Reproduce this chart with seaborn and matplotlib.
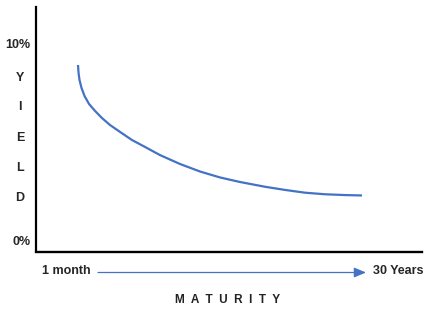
import matplotlib
matplotlib.use("Agg")
import matplotlib.pyplot as plt
import seaborn as sns
import pandas as pd

# Data (maturity in years, yield in %)
maturity_years = [0.08, 0.14, 0.24, 0.45, 0.77, 1.24, 1.87, 2.60, 3.44, 4.49, 5.75, 7.12,
                  8.69, 10.79, 12.89, 14.99, 17.09, 19.71, 21.81, 23.91, 26.02, 28.12, 29.90]
yield_pct = [8.89, 8.48, 8.13, 7.73, 7.32, 6.92, 6.57, 6.21, 5.86, 5.51, 5.10, 4.75,
             4.34, 3.89, 3.51, 3.21, 2.98, 2.74, 2.58, 2.44, 2.36, 2.32, 2.30]
ytick_values = [0, 10]
ytick_labels = ["0%", "10%"]
yield_letters = ["Y", "I", "E", "L", "D"]
x_start_label = "1 month"
x_end_label = "30 Years"
x_title = "MATURITY"

df = pd.DataFrame({"maturity": maturity_years, "yield": yield_pct})

sns.set_theme(style="white")
plt.rcParams["font.family"] = ["Liberation Sans", "DejaVu Sans"]

W, H = 435, 311
fig = plt.figure(figsize=(W / 100, H / 100), dpi=100)
fig.patch.set_facecolor("white")

def fx(px):
    return px / W

def fy(py):
    return 1 - py / H

# axes from x=36..422 px, y=7..252 px
ax = fig.add_axes([fx(36), fy(252), fx(422) - fx(36), fy(7) - fy(252)])
ax.set_facecolor("white")

blue = "#4472C4"
sns.lineplot(data=df, x="maturity", y="yield", ax=ax, color=blue, linewidth=1.6)
for ln in ax.get_lines():
    ln.set_solid_joinstyle("round")
    ln.set_solid_capstyle("butt")

ax.set_xlim(-4.33, 36.2)
ax.set_ylim(-0.556, 11.82)

for s in ["top", "right"]:
    ax.spines[s].set_visible(False)
ax.spines["left"].set_color("black")
ax.spines["left"].set_linewidth(1.6)
ax.spines["bottom"].set_color("black")
ax.spines["bottom"].set_linewidth(1.7)
ax.spines["left"].set_bounds(-0.45, 11.82)

ax.set_xticks([])
ax.set_yticks(ytick_values)
ax.set_yticklabels(ytick_labels, fontsize=9, fontweight="bold")
ax.tick_params(axis="y", length=0, pad=4)
ax.set_xlabel("")
ax.set_ylabel("")

# Y I E L D letters
letter_y = [78, 107, 138, 168, 198]
for ch, py in zip(yield_letters, letter_y):
    fig.text(fx(20), fy(py), ch, ha="center", va="center", fontsize=9, fontweight="bold")

fig.text(fx(42), fy(271), x_start_label, ha="left", va="center", fontsize=9, fontweight="bold")
fig.text(fx(373), fy(271), x_end_label, ha="left", va="center", fontsize=9, fontweight="bold")

fig.text(fx(228), fy(300), "  ".join(list(x_title)), ha="center", va="center",
         fontsize=8.5, fontweight="bold", color="#222222")

ax.annotate("", xy=(fx(366), fy(272.5)), xytext=(fx(98), fy(272.5)),
            xycoords="figure fraction", textcoords="figure fraction",
            arrowprops=dict(arrowstyle="-|>,head_length=0.6,head_width=0.25",
                            color=blue, lw=0.9, shrinkA=0, shrinkB=0))

fig.savefig("out.png", dpi=100, facecolor="white")
